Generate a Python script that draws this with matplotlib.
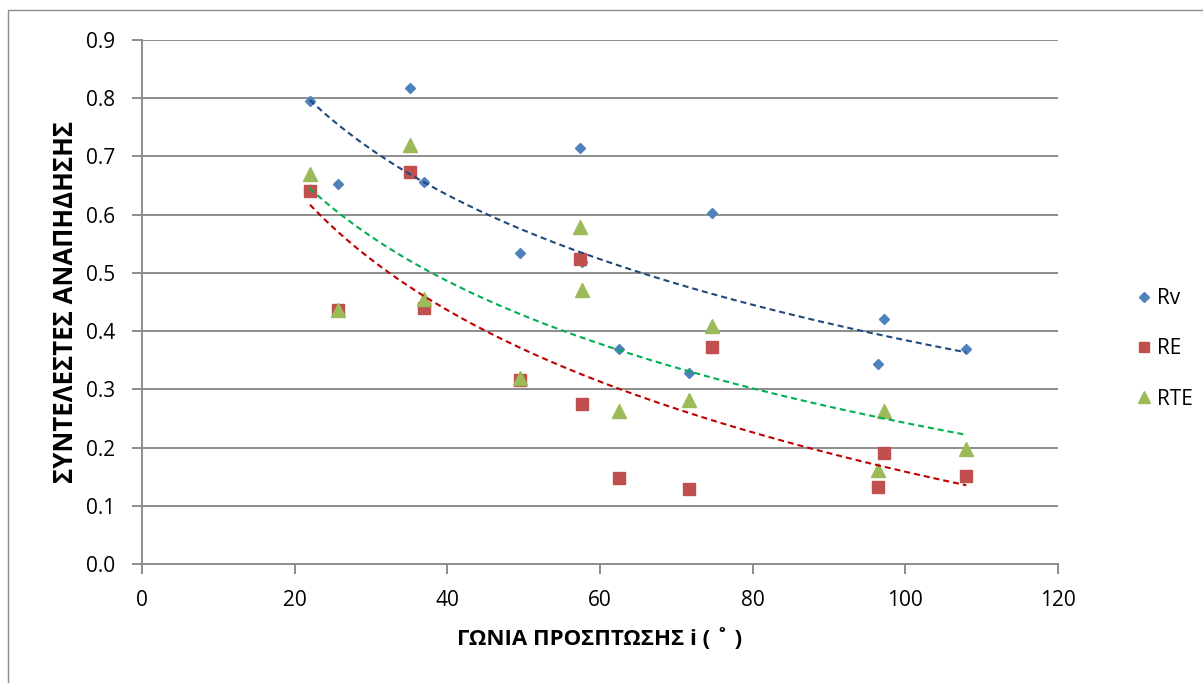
import numpy as np
import matplotlib
matplotlib.use("Agg")
import matplotlib.pyplot as plt
from matplotlib.patches import Rectangle

# Angle of incidence (degrees) and reflection coefficients
angle = [22.0, 25.7, 35.1, 36.9, 49.5, 57.4, 57.6, 62.5, 71.7, 74.7, 96.4, 97.2, 108.0]
rv = [0.795, 0.653, 0.818, 0.656, 0.535, 0.715, 0.518, 0.370, 0.328, 0.603, 0.343, 0.421, 0.369]
re = [0.641, 0.436, 0.673, 0.439, 0.316, 0.523, 0.275, 0.147, 0.128, 0.373, 0.133, 0.191, 0.151]
rte = [0.670, 0.437, 0.720, 0.455, 0.320, 0.578, 0.471, 0.263, 0.282, 0.409, 0.161, 0.263, 0.198]

series_names = ["Rv", "RE", "RTE"]
x_ticks = [0, 20, 40, 60, 80, 100, 120]
y_ticks = [0.0, 0.1, 0.2, 0.3, 0.4, 0.5, 0.6, 0.7, 0.8, 0.9]

plt.rcParams["font.family"] = ["Open Sans", "DejaVu Sans"]

W, H = 1203, 683
fig = plt.figure(figsize=(W / 100, H / 100), dpi=100)
fig.patch.set_facecolor("white")

# outer chart frame
fig.patches.append(Rectangle((8 / W, -0.05), 1.2, 1 - 10 / H + 0.05,
                             transform=fig.transFigure, fill=False,
                             edgecolor="#8c8c8c", linewidth=1.0))

ax = fig.add_axes([142 / W, 1 - 564 / H, (1058 - 142) / W, (564 - 40) / H])

grid_c = "#8c8c8c"
for yv in y_ticks[1:]:
    ax.axhline(yv, color=grid_c, linewidth=1.4, zorder=1)

styles = [
    dict(marker="D", color="#4F81BD", ms=5.6, trend="#1F497D"),
    dict(marker="s", color="#C0504D", ms=8.8, trend="#C00000"),
    dict(marker="^", color="#9BBB59", ms=10.0, trend="#00B050"),
]

xa = np.array(angle)
handles = []
for name, vals, st in zip(series_names, [rv, re, rte], styles):
    h, = ax.plot(angle, vals, linestyle="none", marker=st["marker"],
                 color=st["color"], markersize=st["ms"],
                 markeredgecolor=st["color"], label=name, zorder=3)
    handles.append(h)
    # logarithmic trend line y = a + b ln(x)
    b, a = np.polyfit(np.log(xa), np.array(vals), 1)
    xs = np.linspace(xa.min(), xa.max(), 200)
    ax.plot(xs, a + b * np.log(xs), color=st["trend"], linewidth=1.5,
            dashes=(2.9, 1.9), zorder=4)

ax.set_xlim(0, 120)
ax.set_ylim(0, 0.9)
ax.set_xticks(x_ticks)
ax.set_yticks(y_ticks)
ax.set_yticklabels([f"{v:.1f}" for v in y_ticks])
ax.set_xticklabels([str(v) for v in x_ticks])

for s in ["top", "right"]:
    ax.spines[s].set_visible(False)
for s in ["left", "bottom"]:
    ax.spines[s].set_color(grid_c)
    ax.spines[s].set_linewidth(1.4)

ax.tick_params(axis="both", colors=grid_c, labelcolor="black",
               labelsize=15, length=7, width=1.4, direction="out")
ax.tick_params(axis="y", pad=12)
ax.tick_params(axis="x", pad=12)

ax.set_xlabel("ΓΩΝΙΑ ΠΡΟΣΠΤΩΣΗΣ i ( ˚ )", fontsize=16, fontweight="bold",
              labelpad=12)
ax.set_ylabel("ΣΥΝΤΕΛΕΣΤΕΣ ΑΝΑΠΗΔΗΣΗΣ", fontsize=18.5, fontweight="bold")
ax.yaxis.set_label_coords(-0.069, 0.5)

leg = ax.legend(handles=handles, loc="center left",
                bbox_to_anchor=(1115 / W, 1 - 349 / H),
                bbox_transform=fig.transFigure, frameon=False,
                fontsize=15, labelspacing=1.4, handletextpad=0.1,
                handlelength=1.0, markerscale=0.85)

fig.savefig("out.png", dpi=100, facecolor="white")
